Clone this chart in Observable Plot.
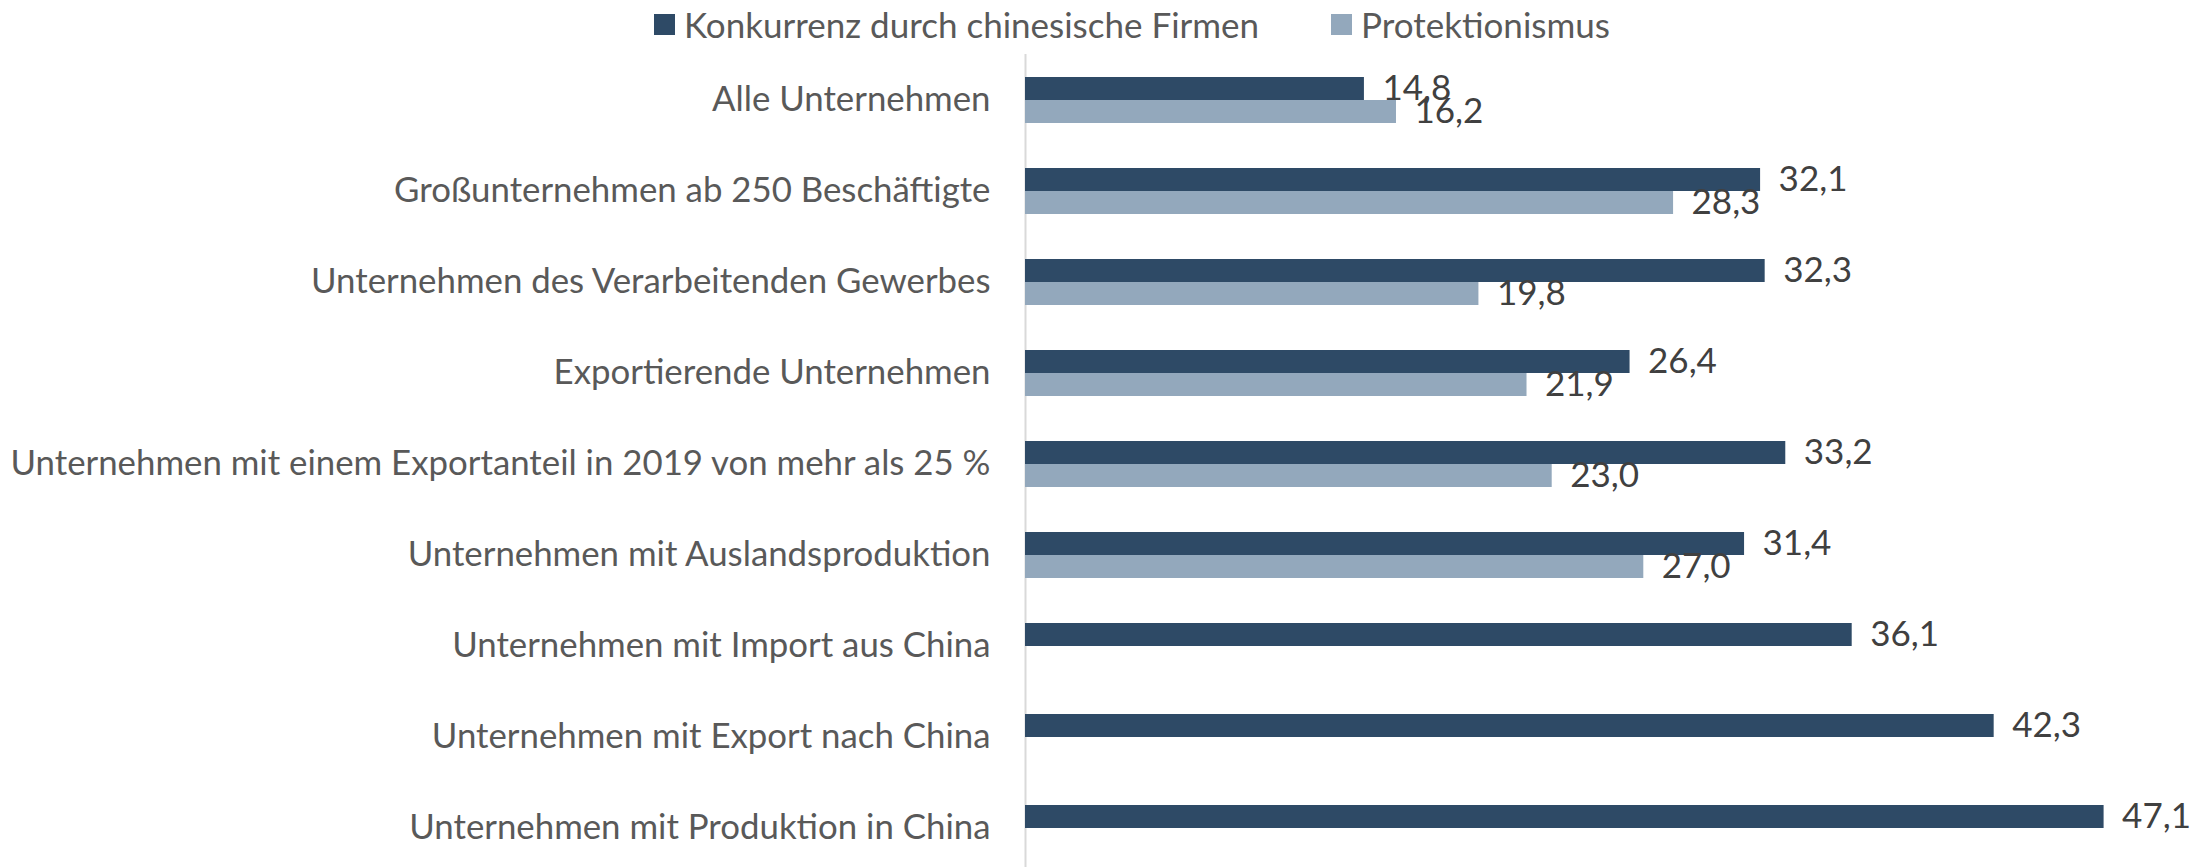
<!DOCTYPE html>
<html><head><meta charset="utf-8">
<script src="https://cdn.jsdelivr.net/npm/d3@7"></script>
<script src="https://cdn.jsdelivr.net/npm/@observablehq/plot@0.6"></script>
<style>
html,body{margin:0;padding:0;background:#fff;overflow:hidden;}
#wrap{position:relative;width:2208px;height:867px;overflow:hidden;}
#legend{position:absolute;top:0;left:0;width:2208px;height:50px;font-family:Lato,sans-serif;font-size:35px;color:#595959;z-index:2;}
.item{position:absolute;top:3px;display:flex;align-items:center;white-space:nowrap;}
.sw{width:21px;height:21px;margin-right:9px;}
#chart{position:absolute;top:0;left:0;}
</style></head>
<body><div id="wrap"><div id="legend"></div><div id="chart"></div></div>
<script>
const categories = [
  "Alle Unternehmen",
  "Großunternehmen ab 250 Beschäftigte",
  "Unternehmen des Verarbeitenden Gewerbes",
  "Exportierende Unternehmen",
  "Unternehmen mit einem Exportanteil in 2019 von mehr als 25 %",
  "Unternehmen mit Auslandsproduktion",
  "Unternehmen mit Import aus China",
  "Unternehmen mit Export nach China",
  "Unternehmen mit Produktion in China"
];
const seriesNames = ["Konkurrenz durch chinesische Firmen", "Protektionismus"];
const konkurrenz = [14.8, 32.1, 32.3, 26.4, 33.2, 31.4, 36.1, 42.3, 47.1];
const protektionismus = [16.2, 28.3, 19.8, 21.9, 23.0, 27.0, null, null, null];
const colors = ["#2E4A66", "#93A8BC"];

const rows = [];
categories.forEach((c, i) => {
  rows.push({category: c, series: seriesNames[0], value: konkurrenz[i]});
  if (protektionismus[i] != null) rows.push({category: c, series: seriesNames[1], value: protektionismus[i]});
});
const fmt = v => v.toFixed(1).replace(".", ",");

const legend = document.getElementById("legend");
const legendLeft = [654, 1331];
seriesNames.forEach((s, i) => {
  const it = document.createElement("div");
  it.className = "item";
  it.style.left = legendLeft[i] + "px";
  it.innerHTML = `<div class="sw" style="background:${colors[i]}"></div><span>${s}</span>`;
  legend.appendChild(it);
});

const plot = Plot.plot({
  width: 2208,
  height: 867,
  marginLeft: 1025,
  marginRight: 38,
  marginTop: 54,
  marginBottom: -6,
  style: {fontFamily: "Lato, sans-serif", fontSize: "34.8px", color: "#595959", background: "white", overflow: "visible"},
  x: {domain: [0, 50], axis: null},
  fy: {domain: categories, padding: 0, label: null, axis: "left", tickSize: 0, tickPadding: 35},
  y: {domain: seriesNames, axis: null, paddingInner: 0, paddingOuter: 0.9},
  color: {domain: seriesNames, range: colors},
  facet: {data: rows, y: "category"},
  marks: [
    Plot.ruleX([0], {stroke: "#d9d9d9", strokeWidth: 2}),
    Plot.barX(rows, {x: "value", y: "series", fill: "series"}),
    Plot.text(rows, {x: "value", y: "series", text: d => fmt(d.value), textAnchor: "start", dx: 18, fill: "#404040", fontSize: 35})
  ]
});
document.getElementById("chart").appendChild(plot);
</script>
</body></html>
